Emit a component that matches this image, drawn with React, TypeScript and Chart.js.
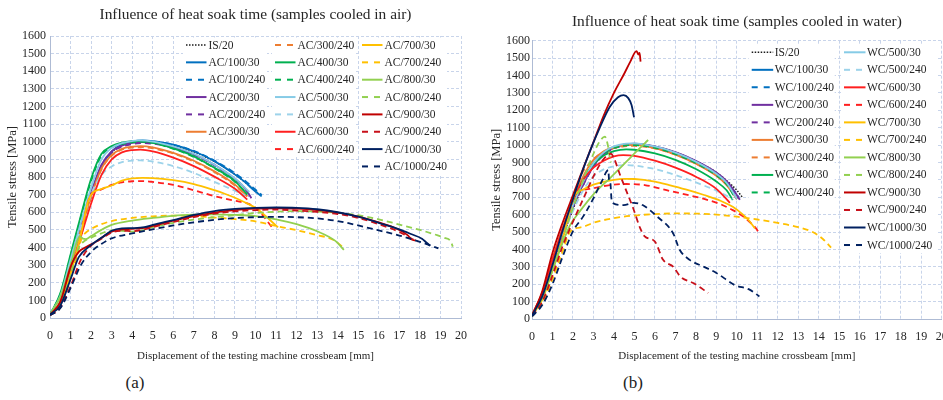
import React, { useEffect, useRef } from "react";
import { Chart, registerables } from "chart.js";

Chart.register(...registerables);

type Pt = [number, number];

const FONT = "'Liberation Serif', 'Times New Roman', serif";

// ---------- Axis ticks ----------
const X_MIN = 0;
const X_MAX = 20;
const X_STEP = 1;
const Y_MIN = 0;
const Y_MAX = 1600;
const Y_STEP = 100;

// ---------- (a) samples cooled in air ----------
const AC_TITLE = "Influence of heat soak time (samples cooled in air)";
const AC_NAMES = [
  "IS/20", "AC/100/30", "AC/100/240", "AC/200/30", "AC/200/240", "AC/300/30",
  "AC/300/240", "AC/400/30", "AC/400/240", "AC/500/30", "AC/500/240", "AC/600/30", "AC/600/240",
  "AC/700/30", "AC/700/240", "AC/800/30", "AC/800/240", "AC/900/30", "AC/900/240", "AC/1000/30", "AC/1000/240",
];

const AC_IS20: Pt[] = [[0,20],[0.5,125],[1,320],[1.5,520],[2,710],[2.5,860],[3,940],[3.5,980],[4,997],[4.5,1003],[5,1000],[6,980],[7,943],[8,888],[9,815],[9.6,760],[10.1,710]];
const AC_100_30: Pt[] = [[0,20],[0.5,120],[1,310],[1.5,510],[2,700],[2.5,860],[3,945],[3.5,985],[4,1002],[4.5,1008],[5,1004],[6,984],[7,946],[8,890],[8.9,822],[9.5,770],[9.9,727],[10.3,690]];
const AC_100_240: Pt[] = [[0,20],[0.5,110],[1,300],[1.5,500],[2,690],[2.5,850],[3,938],[3.5,980],[4,998],[4.5,1005],[5,1002],[6,983],[7,948],[8,893],[9,822],[9.6,768],[10,728],[10.3,698]];
const AC_200_30: Pt[] = [[0,20],[0.5,120],[1,320],[1.5,520],[2,710],[2.5,868],[3,945],[3.5,978],[4,993],[4.5,998],[5,995],[6,970],[7,930],[8,870],[9,790],[9.5,735],[9.8,680]];
const AC_200_240: Pt[] = [[0,20],[0.5,115],[1,310],[1.5,510],[2,700],[2.5,860],[3,940],[3.5,972],[4,987],[4.5,992],[5,989],[6,966],[7,926],[8,866],[9,786],[9.5,733],[9.7,690]];
const AC_300_30: Pt[] = [[0,20],[0.5,110],[1,300],[1.5,500],[2,690],[2.5,848],[3,925],[3.5,960],[4,972],[4.4,975],[5,968],[6,937],[7,892],[8,832],[9,757],[9.6,690]];
const AC_300_240: Pt[] = [[0,20],[0.5,105],[1,295],[1.5,495],[2,685],[2.5,842],[3,920],[3.5,955],[4,967],[4.5,969],[5,963],[6,933],[7,888],[8,828],[9,752],[9.6,690]];
const AC_400_30: Pt[] = [[0,20],[0.5,140],[1,360],[1.5,580],[2,790],[2.5,930],[3,975],[3.5,995],[4,1003],[4.4,1005],[5,996],[6,962],[7,917],[8,852],[9,777],[9.6,700]];
const AC_400_240: Pt[] = [[0,20],[0.5,135],[1,350],[1.5,570],[2,778],[2.5,920],[3,968],[3.5,988],[4,997],[4.5,999],[5,993],[6,960],[7,914],[8,850],[9,773],[9.6,705]];
const AC_500_30: Pt[] = [[0,20],[0.5,125],[1,330],[1.5,540],[2,740],[2.5,900],[3,965],[3.5,992],[4,1004],[4.3,1008],[5,1001],[6,973],[7,932],[8,870],[9,792],[9.7,715]];
const AC_500_240: Pt[] = [[0,20],[0.5,115],[1,310],[1.5,510],[2,700],[2.5,810],[3,860],[3.5,884],[4,893],[4.4,894],[5,888],[6,862],[7,823],[8,772],[9,722],[9.5,695]];
const AC_600_30: Pt[] = [[0,20],[0.5,90],[1,270],[1.5,460],[2,650],[2.5,810],[3,900],[3.5,940],[4,953],[4.4,955],[5,945],[6,910],[7,862],[8,802],[9,733],[9.6,672]];
const AC_600_240: Pt[] = [[0,20],[0.5,60],[1,230],[1.5,450],[1.8,640],[2,700],[2.5,730],[3,755],[3.5,770],[4,776],[4.5,777],[5,772],[6,755],[7,725],[8,692],[9,665],[9.6,650],[10,625],[10.3,590],[10.6,545],[10.8,515]];
const AC_700_30: Pt[] = [[0,20],[0.5,80],[1,250],[1.5,470],[1.8,640],[2,700],[2.5,732],[3,752],[3.5,780],[4,792],[4.5,795],[5,794],[6,782],[7,760],[8,725],[8.5,705],[9,682],[9.5,655],[10,625],[10.5,578],[10.9,535],[11.1,515]];
const AC_700_240: Pt[] = [[0,15],[0.5,70],[1,230],[1.4,400],[1.55,455],[1.8,490],[2,505],[2.5,532],[3,550],[4,568],[5,577],[6,581],[7,578],[8,570],[9,561],[10,548],[11,522],[12,498],[13,470],[13.8,443],[14.3,396]];
const AC_800_30: Pt[] = [[0,20],[0.5,120],[1,300],[1.3,430],[1.45,465],[1.6,450],[1.75,448],[2,465],[2.5,500],[3,528],[4,553],[5,568],[6,580],[7,586],[8,588],[9,585],[10,578],[11,560],[12,532],[13,492],[13.9,436],[14.3,386]];
const AC_800_240: Pt[] = [[0,20],[0.5,80],[1,250],[1.4,400],[1.6,430],[2,455],[2.5,480],[3,497],[3.5,495],[4,490],[4.5,497],[5,515],[6,540],[7,558],[8,572],[9,583],[10,596],[11,603],[12,606],[13,604],[14,597],[15,583],[16,560],[17,530],[18,500],[18.7,475],[19.2,455],[19.5,435],[19.6,405]];
const AC_900_30: Pt[] = [[0,20],[0.5,90],[1,290],[1.4,375],[1.8,405],[2.2,430],[3,490],[3.8,505],[4.5,510],[5,522],[6,552],[7,578],[8,598],[9,612],[10,620],[11,622],[12,620],[13,612],[14,598],[15,575],[16,542],[16.9,505],[17.4,470],[17.6,445],[17.8,440]];
const AC_900_240: Pt[] = [[0,15],[0.5,60],[1,180],[1.5,330],[2,410],[2.5,450],[3,485],[3.5,495],[4,493],[4.5,500],[5,515],[6,545],[7,572],[8,592],[9,605],[10,612],[11,615],[12,610],[13,602],[14,590],[15,568],[16,532],[17,488],[17.6,450],[17.9,435]];
const AC_1000_30: Pt[] = [[0,20],[0.5,70],[1,220],[1.4,345],[1.9,405],[2.5,455],[3,495],[3.5,508],[4,510],[4.6,515],[5,528],[6,556],[7,585],[8,607],[9,619],[10,625],[11,627],[12,625],[13,617],[14,600],[15,575],[16,540],[17,503],[17.6,475],[18.1,450],[18.3,430],[18.5,410]];
const AC_1000_240: Pt[] = [[0,15],[0.5,55],[1,170],[1.5,300],[2,375],[2.5,420],[3,452],[4,480],[5,503],[6,525],[7,543],[8,557],[9,567],[10,572],[11,574],[12,572],[13,565],[14,550],[15,525],[16,497],[17,468],[18,432],[18.5,412],[18.9,395]];

const AC_DATA: Pt[][] = [
  AC_IS20, AC_100_30, AC_100_240, AC_200_30, AC_200_240, AC_300_30, AC_300_240,
  AC_400_30, AC_400_240, AC_500_30, AC_500_240, AC_600_30, AC_600_240, AC_700_30,
  AC_700_240, AC_800_30, AC_800_240, AC_900_30, AC_900_240, AC_1000_30, AC_1000_240,
];

// ---------- (b) samples cooled in water ----------
const WC_TITLE = "Influence of heat soak time (samples cooled in water)";
const WC_NAMES = [
  "IS/20", "WC/100/30", "WC/100/240", "WC/200/30", "WC/200/240", "WC/300/30", "WC/300/240",
  "WC/400/30", "WC/400/240", "WC/500/30", "WC/500/240", "WC/600/30", "WC/600/240", "WC/700/30",
  "WC/700/240", "WC/800/30", "WC/800/240", "WC/900/30", "WC/900/240", "WC/1000/30", "WC/1000/240",
];

const WC_IS20: Pt[] = [[0,20],[0.5,120],[1,300],[1.5,470],[2,630],[2.5,770],[3,880],[3.5,950],[4,985],[4.5,1003],[5,1008],[6,992],[7,958],[8,908],[9,843],[9.5,795],[10,740],[10.3,695]];
const WC_100_30: Pt[] = [[0,20],[0.5,140],[1,330],[1.5,500],[2,660],[2.5,790],[3,895],[3.5,955],[4,987],[4.5,1002],[5,1005],[6,986],[7,950],[8,898],[9,830],[9.5,780],[10,690]];
const WC_100_240: Pt[] = [[0,20],[0.5,130],[1,320],[1.5,490],[2,650],[2.5,780],[3,888],[3.5,950],[4,984],[4.5,1000],[5,1004],[6,987],[7,952],[8,901],[9,834],[9.6,775],[10.1,700]];
const WC_200_30: Pt[] = [[0,20],[0.5,125],[1,315],[1.5,485],[2,645],[2.5,775],[3,880],[3.5,948],[4,985],[4.6,1005],[5,1008],[6,993],[7,960],[8,910],[9,842],[9.6,780],[10.15,685]];
const WC_200_240: Pt[] = [[0,20],[0.5,120],[1,305],[1.5,478],[2,638],[2.5,770],[3,875],[3.5,943],[4,980],[4.6,1000],[5,1003],[6,989],[7,956],[8,906],[9,838],[9.6,775],[10.1,690]];
const WC_300_30: Pt[] = [[0,20],[0.5,150],[1,345],[1.5,520],[2,680],[2.5,820],[3,915],[3.5,965],[4,990],[4.5,1000],[5,1001],[6,982],[7,945],[8,893],[9,823],[9.5,770],[10,690]];
const WC_300_240: Pt[] = [[0,20],[0.5,145],[1,340],[1.5,520],[2,690],[2.5,850],[2.7,880],[3,920],[3.5,960],[4,982],[4.5,993],[5,995],[6,980],[7,945],[8,893],[9,825],[9.5,772],[10,690]];
const WC_400_30: Pt[] = [[0,20],[0.5,140],[1,330],[1.5,505],[2,665],[2.5,800],[3,890],[3.5,940],[4,965],[4.6,975],[5,973],[6,952],[7,915],[8,862],[9,790],[9.5,740],[9.8,684]];
const WC_400_240: Pt[] = [[0,20],[0.5,135],[1,325],[1.5,500],[2,660],[2.5,795],[3,895],[3.5,952],[4,983],[4.6,998],[5,1000],[6,984],[7,948],[8,896],[9,826],[9.5,775],[9.9,700]];
const WC_500_30: Pt[] = [[0,20],[0.5,130],[1,320],[1.5,495],[2,655],[2.5,790],[3,895],[3.5,958],[4,992],[4.6,1008],[5,1010],[6,992],[7,957],[8,905],[9,835],[9.5,783],[10,690]];
const WC_500_240: Pt[] = [[0,20],[0.5,120],[1,300],[1.5,470],[2,620],[2.5,740],[3,820],[3.5,860],[4,878],[4.6,885],[5,882],[6,862],[7,828],[8,785],[9,738],[9.8,690]];
const WC_600_30: Pt[] = [[0,20],[0.5,150],[1,340],[1.5,520],[2,680],[2.5,800],[3,870],[3.5,910],[4,935],[4.45,942],[5,938],[6,910],[7,870],[8,818],[9,748],[9.66,668]];
const WC_600_240: Pt[] = [[0,20],[0.5,120],[1,290],[1.5,470],[1.8,600],[2,700],[2.3,732],[3,752],[3.8,770],[4.6,776],[5.5,770],[6.7,737],[8.4,690],[9.2,660],[9.8,626],[10.3,590],[10.7,550],[11.05,500],[11.1,485]];
const WC_700_30: Pt[] = [[0,20],[0.5,110],[1,280],[1.5,460],[1.9,650],[2.1,715],[2.5,745],[3,772],[4,800],[4.5,806],[5,805],[6,790],[6.7,770],[7.5,745],[8.4,713],[9.2,680],[9.8,645],[10.3,600],[10.6,565],[10.88,521]];
const WC_700_240: Pt[] = [[0,15],[0.5,90],[1,230],[1.5,390],[1.85,500],[2.5,530],[3,553],[4,580],[5,595],[6,603],[7,607],[8,606],[9,600],[10,588],[11,572],[12,552],[13,528],[13.7,500],[14.2,460],[14.6,410]];
const WC_800_30: Pt[] = [[0,20],[0.5,120],[1,280],[1.5,440],[1.86,540],[2.34,620],[3,717],[3.8,809],[4.62,906],[5.2,975],[5.67,1029]];
const WC_800_240: Pt[] = [[0,20],[0.5,120],[1,290],[1.5,460],[2,640],[2.5,800],[3,950],[3.3,1020],[3.56,1048],[3.7,1000],[3.8,925],[3.85,900]];
const WC_900_30: Pt[] = [[0,20],[0.5,160],[1,380],[1.5,555],[2,712],[2.5,867],[3,1017],[3.5,1170],[4,1300],[4.5,1410],[4.8,1480],[5.1,1540],[5.2,1520],[5.25,1530],[5.3,1480]];
const WC_900_240: Pt[] = [[0,20],[0.5,100],[1,250],[1.5,420],[2,560],[2.5,690],[3,820],[3.5,920],[3.85,950],[4,925],[4.3,828],[4.62,732],[4.94,637],[5.27,525],[5.5,475],[6,445],[6.4,340],[6.9,300],[7.25,243],[7.9,205],[8.6,150]];
const WC_1000_30: Pt[] = [[0,20],[0.5,130],[1,310],[1.5,510],[1.86,640],[2.34,810],[2.83,965],[3.31,1100],[3.8,1220],[4.2,1275],[4.47,1287],[4.7,1270],[4.86,1230],[4.98,1160]];
const WC_1000_240: Pt[] = [[0,15],[0.5,80],[1,200],[1.5,360],[2,505],[2.5,590],[3,694],[3.4,790],[3.73,856],[3.76,800],[3.82,790],[3.88,690],[3.97,665],[4.47,655],[4.96,668],[5.4,655],[6.1,590],[6.9,490],[7.2,400],[7.7,340],[8.4,300],[9,265],[9.9,195],[10.6,170],[11.1,130]];

const WC_DATA: Pt[][] = [
  WC_IS20, WC_100_30, WC_100_240, WC_200_30, WC_200_240, WC_300_30, WC_300_240,
  WC_400_30, WC_400_240, WC_500_30, WC_500_240, WC_600_30, WC_600_240, WC_700_30,
  WC_700_240, WC_800_30, WC_800_240, WC_900_30, WC_900_240, WC_1000_30, WC_1000_240,
];

// ---------- Styles (shared by both panels, in series order) ----------
const SERIES_COLORS = [
  "#1a1a1a", "#0070C0", "#0070C0", "#7030A0", "#7030A0", "#ED7D31", "#ED7D31",
  "#00B050", "#00B050", "#86CBE6", "#9DD3EA", "#FF1F1F", "#FF1F1F", "#FFC000",
  "#FFC000", "#92D050", "#92D050", "#C00000", "#C8101A", "#002060", "#002060",
];
const SERIES_STYLES = [
  "dot", "solid", "dash", "solid", "dash", "solid", "dash",
  "solid", "dash", "solid", "dash", "solid", "dash", "solid",
  "dash", "solid", "dash", "solid", "dash", "solid", "dash",
];

type LegendCol = { x: number; y: number; n: number; w: number };

type PanelProps = {
  title: string;
  names: string[];
  data: Pt[][];
  left: number;
  width: number;
  height: number;
  area: { l: number; r: number; t: number; b: number };
  titlePadTop: number;
  yTitlePad: number;
  yTickPad: number;
  legendCols: LegendCol[];
  rowH: number;
  swLen: number;
  gap: number;
};

function dashFor(style: string): number[] {
  if (style === "dash") return [6, 4];
  if (style === "dot") return [1.5, 1.5];
  return [];
}

const columnLegend = {
  id: "columnLegend",
  afterDraw(chart: any, _args: any, opts: any) {
    const ctx: CanvasRenderingContext2D = chart.ctx;
    const { cols, rowH, swLen, gap, names, colors, styles } = opts;
    let k = 0;
    ctx.save();
    for (const c of cols as LegendCol[]) {
      ctx.fillStyle = "#ffffff";
      ctx.fillRect(c.x - 3, c.y - 7.5, c.w, (c.n - 1) * rowH + 15.5);
      for (let i = 0; i < c.n; i++, k++) {
        const y = c.y + i * rowH;
        ctx.strokeStyle = colors[k];
        ctx.lineWidth = styles[k] === "dot" ? 1.4 : 2;
        ctx.setLineDash(styles[k] === "dash" ? [6, 6] : dashFor(styles[k]));
        ctx.beginPath();
        ctx.moveTo(c.x, y);
        ctx.lineTo(c.x + swLen, y);
        ctx.stroke();
        ctx.setLineDash([]);
        ctx.fillStyle = "#262626";
        ctx.font = `11.5px ${FONT}`;
        ctx.textBaseline = "middle";
        ctx.textAlign = "left";
        ctx.fillText(names[k], c.x + swLen + gap, y + 0.5);
      }
    }
    ctx.restore();
  },
};

function Panel(p: PanelProps) {
  const ref = useRef<HTMLCanvasElement | null>(null);
  useEffect(() => {
    if (!ref.current) return;
    const n = p.data.length;
    const datasets = p.data.map((pts, i) => ({
      label: p.names[i],
      data: pts.map(([x, y]) => ({ x, y })),
      borderColor: SERIES_COLORS[i],
      backgroundColor: SERIES_COLORS[i],
      borderWidth: SERIES_STYLES[i] === "dot" ? 1.5 : 1.8,
      borderDash: dashFor(SERIES_STYLES[i]),
      pointRadius: 0,
      fill: false,
      cubicInterpolationMode: "monotone" as const,
      order: n - i,
    }));
    const titleSize = 15.4;
    const titleH = titleSize * 1.2;
    const chart = new Chart(ref.current, {
      type: "line",
      data: { datasets },
      plugins: [columnLegend],
      options: {
        animation: false,
        responsive: false,
        maintainAspectRatio: false,
        events: [],
        layout: { padding: { left: 0, right: p.width - p.area.r, top: 0, bottom: 0 } },
        plugins: {
          legend: { display: false },
          tooltip: { enabled: false },
          title: {
            display: true,
            text: p.title,
            fullSize: false,
            color: "#262626",
            font: { family: FONT, size: titleSize, weight: "normal" },
            padding: { top: p.titlePadTop, bottom: p.area.t - titleH - p.titlePadTop },
          },
          columnLegend: {
            cols: p.legendCols,
            rowH: p.rowH,
            swLen: p.swLen,
            gap: p.gap,
            names: p.names,
            colors: SERIES_COLORS,
            styles: SERIES_STYLES,
          },
        } as any,
        scales: {
          x: {
            type: "linear",
            min: X_MIN,
            max: X_MAX,
            afterFit: (s: any) => {
              s.height = p.height - p.area.b;
              s.paddingLeft = 0;
              s.paddingRight = 0;
            },
            ticks: {
              stepSize: X_STEP,
              autoSkip: false,
              maxRotation: 0,
              padding: 11,
              color: "#262626",
              font: { family: FONT, size: 12 },
              callback: (v: any) => String(v),
            },
            grid: { color: "#c8d4ea", lineWidth: 1, drawTicks: false },
            border: { display: true, color: "#aebbd4", width: 1, dash: [3, 2] },
            title: {
              display: true,
              text: "Displacement of the testing machine crossbeam [mm]",
              color: "#262626",
              font: { family: FONT, size: 11 },
              padding: { top: 0, bottom: 9 },
            },
          },
          y: {
            type: "linear",
            min: Y_MIN,
            max: Y_MAX,
            afterFit: (s: any) => {
              s.width = p.area.l;
            },
            ticks: {
              stepSize: Y_STEP,
              autoSkip: false,
              padding: p.yTickPad,
              color: "#262626",
              font: { family: FONT, size: 12 },
              callback: (v: any) => String(v),
            },
            grid: { color: "#c8d4ea", lineWidth: 1, drawTicks: false },
            border: { display: true, color: "#aebbd4", width: 1, dash: [3, 2] },
            title: {
              display: true,
              text: "Tensile stress [MPa]",
              color: "#262626",
              font: { family: FONT, size: 12.5 },
              padding: { top: p.yTitlePad, bottom: 0 },
            },
          },
        },
      },
    } as any);
    return () => chart.destroy();
  }, []);
  return (
    <canvas
      ref={ref}
      width={p.width}
      height={p.height}
      style={{ position: "absolute", left: p.left, top: 0, width: p.width, height: p.height }}
    />
  );
}

export default function App() {
  return (
    <div style={{ position: "absolute", left: 0, top: 0, width: 943, height: 400, background: "#fff", overflow: "hidden" }}>
      <Panel
        title={AC_TITLE}
        names={AC_NAMES}
        data={AC_DATA}
        left={0}
        width={470}
        height={372}
        area={{ l: 50, r: 461, t: 36, b: 318 }}
        titlePadTop={5.8}
        yTitlePad={5.5}
        yTickPad={4}
        legendCols={[
          { x: 186, y: 45, n: 6, w: 84 },
          { x: 275, y: 45, n: 7, w: 83 },
          { x: 362, y: 45, n: 8, w: 88 },
        ]}
        rowH={17.35}
        swLen={20.5}
        gap={2}
      />
      <Panel
        title={WC_TITLE}
        names={WC_NAMES}
        data={WC_DATA}
        left={470}
        width={473}
        height={372}
        area={{ l: 62, r: 471.7, t: 40.7, b: 319 }}
        titlePadTop={12.8}
        yTitlePad={19}
        yTickPad={2}
        legendCols={[
          { x: 281.7, y: 52.3, n: 9, w: 86 },
          { x: 374, y: 52.3, n: 12, w: 95 },
        ]}
        rowH={17.52}
        swLen={21.5}
        gap={1.5}
      />
      <div style={{ position: "absolute", left: 0, width: 270, top: 372, textAlign: "center", fontFamily: FONT, fontSize: 17, color: "#222", lineHeight: "22px" }}>
        (a)
      </div>
      <div style={{ position: "absolute", left: 498, width: 270, top: 372, textAlign: "center", fontFamily: FONT, fontSize: 17, color: "#222", lineHeight: "22px" }}>
        (b)
      </div>
    </div>
  );
}
